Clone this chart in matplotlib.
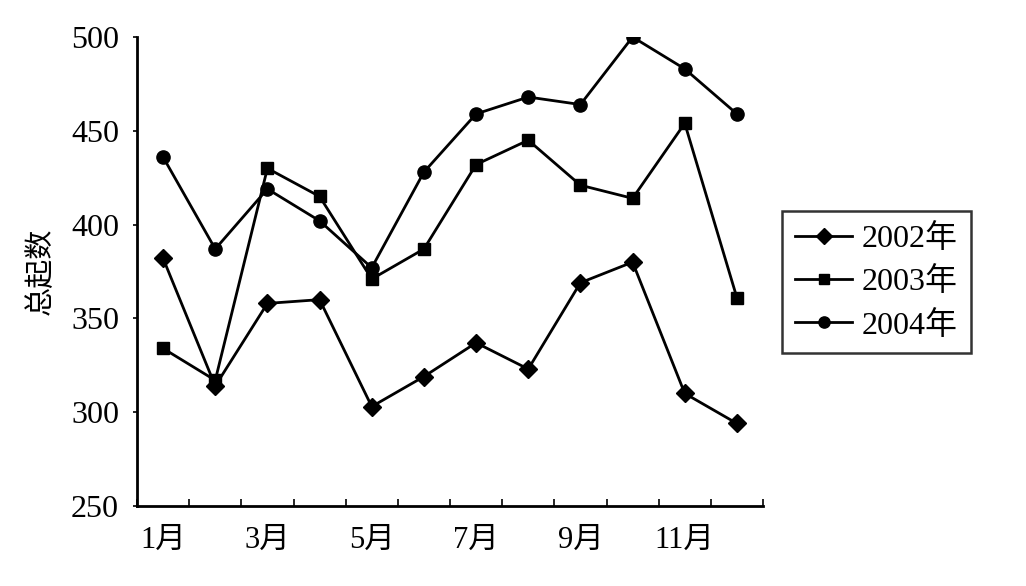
import matplotlib
matplotlib.use("Agg")
import matplotlib.pyplot as plt
import numpy as np

plt.rcParams['font.family'] = ['Liberation Serif', 'Noto Sans CJK SC']

months = ['1月', '2月', '3月', '4月', '5月', '6月', '7月', '8月', '9月', '10月', '11月', '12月']
y2002 = [382, 314, 358, 360, 303, 319, 337, 323, 369, 380, 310, 294]
y2003 = [334, 317, 430, 415, 371, 387, 432, 445, 421, 414, 454, 361]
y2004 = [436, 387, 419, 402, 377, 428, 459, 468, 464, 500, 483, 459]
series_names = ['2002年', '2003年', '2004年']
yticks = [250, 300, 350, 400, 450, 500]

W, H = 1026, 586
fig = plt.figure(figsize=(W / 100, H / 100), dpi=100)
ax = fig.add_axes([137 / W, 1 - 506 / H, (763 - 137) / W, (506 - 37) / H])

x = np.arange(len(months))
lw = 2.0
ax.plot(x, y2002, color='black', lw=lw, marker='D', ms=9, label=series_names[0])
ax.plot(x, y2003, color='black', lw=lw, marker='s', ms=8, label=series_names[1])
ax.plot(x, y2004, color='black', lw=lw, marker='o', ms=9.5, label=series_names[2])

ax.set_xlim(-0.5, len(months) - 0.5)
ax.set_ylim(250, 500)
ax.set_yticks(yticks)
ax.tick_params(axis='y', labelsize=23, length=3, width=1.2, direction='out', pad=10)

# category boundary ticks, labels at odd months
ax.set_xticks(np.arange(-0.5, len(months), 1.0), minor=False)
ax.set_xticklabels([])
ax.tick_params(axis='x', which='major', direction='in', length=5, width=1.2)
ax.set_xticks(x[::2], minor=True)
ax.set_xticklabels([months[i] for i in range(0, len(months), 2)], minor=True)
ax.tick_params(axis='x', which='minor', length=0, labelsize=22, pad=14)

for s in ['top', 'right']:
    ax.spines[s].set_visible(False)
for s in ['left', 'bottom']:
    ax.spines[s].set_linewidth(2.0)

ax.set_ylabel('总起数', fontsize=21, labelpad=12)

leg = fig.legend(loc='upper left', bbox_to_anchor=(782 / W, 1 - 211 / H),
                 bbox_transform=fig.transFigure, fontsize=23, frameon=True,
                 fancybox=False, edgecolor='black', handlelength=1.8,
                 handletextpad=0.3, labelspacing=0.42, borderpad=0.4,
                 borderaxespad=0, markerscale=0.85)
leg.get_frame().set_linewidth(1.8)

fig.savefig('out.png', dpi=100)
